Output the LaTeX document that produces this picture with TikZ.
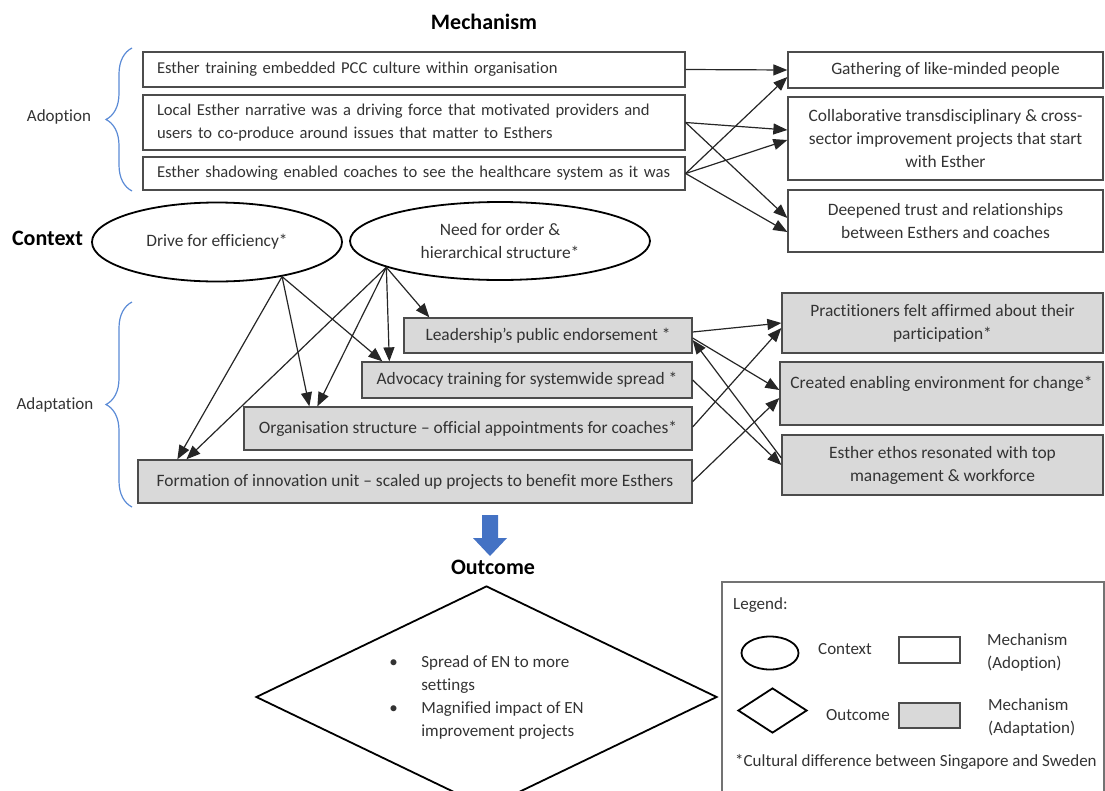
\documentclass[tikz,border=0pt]{standalone}
\usepackage{fontspec}
\setmainfont{Carlito}[Ligatures=NoCommon]
\usetikzlibrary{arrows.meta,shapes.geometric,decorations.pathreplacing}
\definecolor{bracecol}{HTML}{5B8BD6}
\definecolor{downcol}{HTML}{4472C4}
\definecolor{boxfill}{HTML}{D9D9D9}
\begin{document}
\begin{tikzpicture}[x=1pt,y=-1pt,
  >={Triangle[length=14pt,width=11pt]},
  every node/.style={font=\fontsize{17.4}{23}\selectfont, text=black!80},
  mech/.style={draw=black!70, line width=1.3pt, inner sep=0pt, align=center},
  wide/.style={mech, text width=514pt, inner xsep=14pt, align=left, font=\fontsize{16.6}{23}\selectfont},
  adapt/.style={mech, fill=boxfill},
  ctx/.style={draw=black, ellipse, line width=1.8pt, inner sep=0pt, align=center},
  hdr/.style={font=\fontsize{22}{26}\selectfont\bfseries, text=black},
  small/.style={font=\fontsize{17}{23}\selectfont},
  lnk/.style={->, line width=1.2pt, black!85},
  brc/.style={draw=bracecol, line width=1.2pt, decorate, decoration={brace, amplitude=26pt}}]
\useasboundingbox (0,0) rectangle (1105,790);
\clip (0,0) rectangle (1105,790);
\pgfmathsetmacro{\L}{414}
\pgfmathsetmacro{\R}{945.5}
\node (mh) at (484,22)[hdr] {Mechanism};
\node (a1) at (\L,69.5)[wide, minimum height=35pt] {Esther training embedded PCC culture within organisation};
\node (a2) at (\L,122.5)[wide, minimum height=55pt] {Local Esther narrative was a driving force that motivated providers and\\users to co-produce around issues that matter to Esthers};
\node (a3) at (\L,173.5)[wide, minimum height=33pt] {\mbox{Esther shadowing enabled coaches to see the healthcare system as it was}};
\node (m1) at (\R,70)[mech, minimum width=315pt, minimum height=36pt] {Gathering of like-minded people};
\node (m2) at (\R,138.5)[mech, minimum width=315pt, minimum height=83pt] {Collaborative transdisciplinary \& cross-\\sector improvement projects that start\\with Esther};
\node (m3) at (\R,221)[mech, minimum width=315pt, minimum height=62pt] {Deepened trust and relationships\\between Esthers and coaches};
\draw[brc] (132,191) -- (132,48);
\node (ad) at (59,117)[small] {Adoption};
\draw[lnk] (a1.east) -- (m1.west);
\draw[lnk] (a2.east) -- ([yshift=8.5pt]m2.west);
\draw[lnk] (a2.east) -- ([yshift=3pt]m3.west);
\draw[lnk] (a3.east) -- ([yshift=-7pt]m1.west);
\draw[lnk] (a3.east) -- ([yshift=-1.5pt]m2.west);
\draw[lnk] (a3.east) -- ([yshift=-11pt]m3.west);
\node (ch) at (47.5,238)[hdr] {Context};
\node (c1) at (217,242)[ctx, minimum width=250pt, minimum height=79pt] {Drive for efficiency*};
\node (c2) at (500,241)[ctx, minimum width=300pt, minimum height=78pt] {Need for order \&\\hierarchical structure*};
\node (l) at (548,335.5)[adapt, minimum width=288pt, minimum height=35pt] {Leadership’s public endorsement *};
\node (v) at (527,380)[adapt, minimum width=330pt, minimum height=36pt] {Advocacy training for systemwide spread *};
\node (o) at (468,428.5)[adapt, minimum width=448pt, minimum height=43pt] {Organisation structure -- official appointments for coaches*};
\node (f) at (415,481.5)[adapt, minimum width=554pt, minimum height=43pt] {Formation of innovation unit -- scaled up projects to benefit more Esthers};
\node (p) at (942.5,323)[adapt, minimum width=321pt, minimum height=60pt] {Practitioners felt affirmed about their\\participation*};
\node (cr) at (941.5,393.5)[adapt, minimum width=323pt, minimum height=63pt] {Created enabling environment for change*\\\mbox{}};
\node (e) at (942.5,465)[adapt, minimum width=321pt, minimum height=60pt] {Esther ethos resonated with top\\management \& workforce};
\draw[brc] (132,507) -- (132,302);
\node (ap) at (55,405)[small] {Adaptation};
\draw[lnk] (c1.-28) -- ([xshift=40pt]f.north west);
\draw[lnk] (c1.-28) -- ([xshift=66pt]o.north west);
\draw[lnk] (c1.-28) -- ([xshift=21pt]v.north west);
\draw[lnk] (c2.-167) -- ([xshift=49pt]f.north west);
\draw[lnk] (c2.-167) -- ([xshift=74pt]o.north west);
\draw[lnk] (c2.-167) -- ([xshift=28pt]v.north west);
\draw[lnk] (c2.-167) -- ([xshift=26pt]l.north west);
\draw[lnk] ([yshift=3.5pt]l.east) -- (p.west);
\draw[lnk] ([yshift=-2.5pt]l.east) -- ([yshift=3.5pt]cr.west);
\draw[lnk] ([yshift=7pt]e.west) -- ([yshift=-4.5pt]l.east);
\draw[lnk] (v.east) -- (e.west);
\draw[lnk] ([yshift=1.5pt]o.east) -- ([yshift=-5pt]p.west);
\draw[lnk] (f.east) -- ([yshift=-4.5pt]cr.west);
\fill[downcol] (482,515) -- (498,515) -- (498,538) -- (507,538) -- (490,556) -- (473,538) -- (482,538) -- cycle;
\node (oh) at (493,567)[hdr] {Outcome};
\node (out) at (486.5,697)[draw=black, diamond, aspect=2, line width=1.8pt, minimum width=461pt, minimum height=222pt, inner sep=0pt, small] {\begin{tabular}{@{}p{32pt}@{}l@{}}\textbullet & Spread of EN to more\\ & settings\\ \textbullet & Magnified impact of EN\\ & improvement projects\end{tabular}};
\node (lg) at (913,691)[draw=black!55, line width=1.2pt, minimum width=382pt, minimum height=218pt] {};
\node (lgt) at (733,605)[anchor=west, inner sep=0pt, small] {Legend:};
\node (le) at (770,653)[ctx, minimum width=57pt, minimum height=33pt] {};
\node (lc) at (818,649)[anchor=west, inner sep=0pt, small] {Context};
\node (lw) at (929.5,650)[mech, minimum width=61pt, minimum height=26pt] {};
\node (lwt) at (987,652)[anchor=west, inner sep=0pt, align=left, small] {Mechanism\\(Adoption)};
\node (ld) at (772.5,710.5)[draw=black, diamond, line width=1.8pt, minimum width=69pt, minimum height=45pt, inner sep=0pt] {};
\node (lo) at (826,715)[anchor=west, inner sep=0pt, small] {Outcome};
\node (lp) at (929.5,715.5)[adapt, minimum width=61pt, minimum height=25pt] {};
\node (lpt) at (988,717)[anchor=west, inner sep=0pt, align=left, small] {Mechanism\\(Adaptation)};
\node (note) at (735,762)[anchor=west, inner sep=0pt, small] {*Cultural difference between Singapore and Sweden};
\end{tikzpicture}
\end{document}
